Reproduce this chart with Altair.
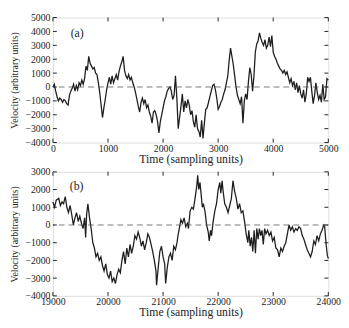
import altair as alt
import pandas as pd

# ---- Panel (a) data: time 0..5000, step 25 ----
a_time = list(range(0, 5001, 25))
a_vel = [
    0, 200, -300, -700, -1000, -800, -900, -1100, -900, -1000, -1200, -1300, -600, -300, -100, 200, -300, 100, -200, 300,
    100, 500, 200, 600, 1500, 1200, 2200, 1700, 1500, 1300, 1400, 1000, 900, 300, -400, -1300, -2200, -1500, -900, -200,
    300, 700, 200, 800, 300, 600, 900, 500, 1100, 1500, 1800, 2200, 1200, 800, 600, 900, 500, 700, 300, 0,
    -400, -900, -1400, -1800, -1100, -800, -1200, -900, -1500, -1300, -1800, -2100, -2600, -1800, -1700, -2000, -2500, -3300, -2500, -2000,
    -1500, -1000, -700, -300, -100, 0, -300, -900, -600, 800, -800, -3000, -2200, -1400, -500, -1800, -1000, -1500, -900, -1300,
    -2000, -1700, -2500, -2900, -2000, -3000, -3200, -3600, -2400, -3700, -2600, -1600, -1500, -1100, -700, -300, 100, 200, -200, -800,
    -1600, -1400, -1100, -900, -500, -200, 300, 800, 1900, 2800, 2200, 1600, 800, 0, -600, -900, -1200, -700, -2600, -1000,
    -500, -900, 400, 1400, 900, -300, 800, 2500, 3100, 3300, 3900, 3500, 3200, 3000, 3400, 2800, 3000, 3600, 2900, 3700,
    2500, 2200, 2000, 1700, 1500, 1300, 1200, 1000, 1200, 900, 1100, 700, 300, 600, 100, 400, -200, 300, -400, 100,
    -500, -800, -200, -1100, -500, 700, 400, 700, -300, -1200, -600, 300, -400, -900, -600, -1100, 200, -900, -700, 600, 500,
]

# ---- Panel (b) data ----
b_time = [
    19000, 19030, 19060, 19106, 19135, 19165, 19194, 19224, 19253, 19282, 19312, 19341, 19371, 19400, 19429, 19459, 19488,
    19518, 19547, 19576, 19594, 19612, 19635, 19665, 19694, 19724, 19753, 19782, 19812, 19841, 19871, 19900, 19929, 19959,
    19988, 20018, 20047, 20076, 20106, 20135, 20165, 20194, 20224, 20253, 20282, 20312, 20341, 20371, 20400, 20429, 20459,
    20488, 20518, 20547, 20576, 20606, 20635, 20665, 20694, 20724, 20753, 20782, 20812, 20841, 20871, 20882, 20912, 20941,
    20971, 21000, 21029, 21047, 21076, 21106, 21135, 21165, 21194, 21224, 21253, 21271, 21294, 21324, 21353, 21382, 21412,
    21441, 21461, 21491, 21521, 21551, 21581, 21611, 21629, 21647, 21671, 21689, 21713, 21731, 21760, 21790, 21820, 21838,
    21862, 21880, 21910, 21940, 21970, 22000, 22030, 22048, 22072, 22090, 22120, 22150, 22180, 22210, 22240, 22269, 22299,
    22329, 22359, 22389, 22419, 22449, 22479, 22509, 22539, 22557, 22581, 22605, 22629, 22653, 22677, 22701, 22725, 22749,
    22772, 22796, 22820, 22844, 22868, 22898, 22928, 22958, 22988, 23018, 23048, 23078, 23108, 23138, 23168, 23198, 23228,
    23257, 23287, 23317, 23347, 23377, 23407, 23437, 23467, 23497, 23527, 23557, 23587, 23617, 23647, 23677, 23707, 23737,
    23766, 23796, 23826, 23856, 23886, 23916, 23934, 23958, 23982, 24000,
]
b_vel = [
    1300, 1000, 1400, 1500, 1100, 1300, 1200, 1600, 1000, 700, 1100, 600, 0, 400, 700, 200, 500,
    100, -200, 400, -700, 600, 1200, 400, -200, -1000, -1300, -1800, -1600, -2000, -1800, -2300, -2600, -2200,
    -2800, -3000, -2600, -3200, -3000, -3300, -2800, -2500, -2700, -2000, -1500, -2200, -1300, -1800, -1100, -1600, -1200,
    -600, -800, -400, -700, -1200, -900, -1400, -1000, -500, -700, -1100, -1500, -2000, -2600, -3400, -2400, -1500,
    -1200, -1800, -2200, -3300, -2400, -1800, -1600, -2000, -1200, -1400, -1000, -600, -200, 300, 100, 400, -100,
    100, -200, 800, 1000, 900, 1500, 2200, 2800, 2000, 2400, 1800, 1000, 1200, 800, 0, -400, -900,
    -300, -600, 200, 800, 1200, 2000, 2400, 1800, 2500, 1900, 1200, 1000, 700, 1100, 1500, 2500, 1900,
    1500, 900, 1200, 700, 800, 200, -500, -1000, -300, -1200, -700, -1500, -300, -1600, -200, -800, -200,
    -600, -300, -1100, -200, -500, -300, -600, -400, -900, -700, -1300, -1400, -1800, -1300, -1500, -1200, -1000,
    -500, 0, -300, -100, -400, -200, -300, -100, -200, -600, -800, -1100, -1400, -1600, -1800, -1500, -900,
    -1100, -600, -900, -500, -300, 0, -100, -1000, -1700, -1900,
]

a_xticks = [0, 1000, 2000, 3000, 4000, 5000]
a_yticks = [-4000, -3000, -2000, -1000, 0, 1000, 2000, 3000, 4000, 5000]
b_xticks = [19000, 20000, 21000, 22000, 23000, 24000]
b_yticks = [-4000, -3000, -2000, -1000, 0, 1000, 2000, 3000]

FONT = "Liberation Serif"
LINE = "#1e1e1e"


def panel(times, vels, xdom, ydom, xticks, yticks, label, lab_x, lab_y, w, h):
    df = pd.DataFrame({"t": times, "v": vels})
    xs = alt.Scale(domain=xdom, nice=False, zero=False)
    ys = alt.Scale(domain=ydom, nice=False, zero=False)
    common = dict(format="d", tickSize=0, domain=False, grid=False, labelOverlap=False, labelFlush=False,
                  labelBound=False, titleFont=FONT, titleFontWeight="normal", labelFont=FONT,
                  labelFontSize=10, labelColor="#222", titleColor="#222")
    xax = alt.Axis(values=xticks, labelPadding=1, title="Time (sampling units)", titleFontSize=12,
                   titlePadding=0, **common)
    yax = alt.Axis(values=yticks, labelPadding=3, title="Velocity (arbitrary units)", titleFontSize=10,
                   titlePadding=6, **common)
    xe = alt.X("t:Q", scale=xs, axis=xax)
    ye = alt.Y("v:Q", scale=ys, axis=yax)
    line = alt.Chart(df).mark_line(color=LINE, strokeWidth=1.3).encode(x=xe, y=ye)
    zero = alt.Chart(pd.DataFrame({"v": [0]})).mark_rule(color="#555", strokeDash=[6, 4], strokeWidth=0.8).encode(
        y=ye
    )
    xt = pd.DataFrame({"t": xticks})
    yt = pd.DataFrame({"v": yticks})
    tb = alt.Chart(xt).mark_rule(color="#222").encode(x=xe, y=alt.value(h), y2=alt.value(h - 4))
    tt = alt.Chart(xt).mark_rule(color="#222").encode(x=xe, y=alt.value(0), y2=alt.value(4))
    tl = alt.Chart(yt).mark_rule(color="#222").encode(y=ye, x=alt.value(0), x2=alt.value(4))
    tr = alt.Chart(yt).mark_rule(color="#222").encode(y=ye, x=alt.value(w), x2=alt.value(w - 4))
    txt = alt.Chart(pd.DataFrame({"t": [lab_x], "v": [lab_y], "s": [label]})).mark_text(
        font=FONT, fontSize=12, color="#222"
    ).encode(x=xe, y=ye, text="s:N")
    return alt.layer(line, zero, tb, tt, tl, tr, txt).properties(width=w, height=h)


pa = panel(a_time, a_vel, [0, 5000], [-4000, 5000], a_xticks, a_yticks, "(a)", 440, 3900, 282, 128)
pb = panel(b_time, b_vel, [19000, 24000], [-4000, 3000], b_xticks, b_yticks, "(b)", 19430, 2200, 282, 127)

chart = alt.vconcat(pa, pb, spacing=1).properties(padding=0).configure_view(
    stroke="#111", strokeWidth=1
).configure(background="white")

chart.save("out.html", embed_options={"renderer": "svg", "actions": False})
